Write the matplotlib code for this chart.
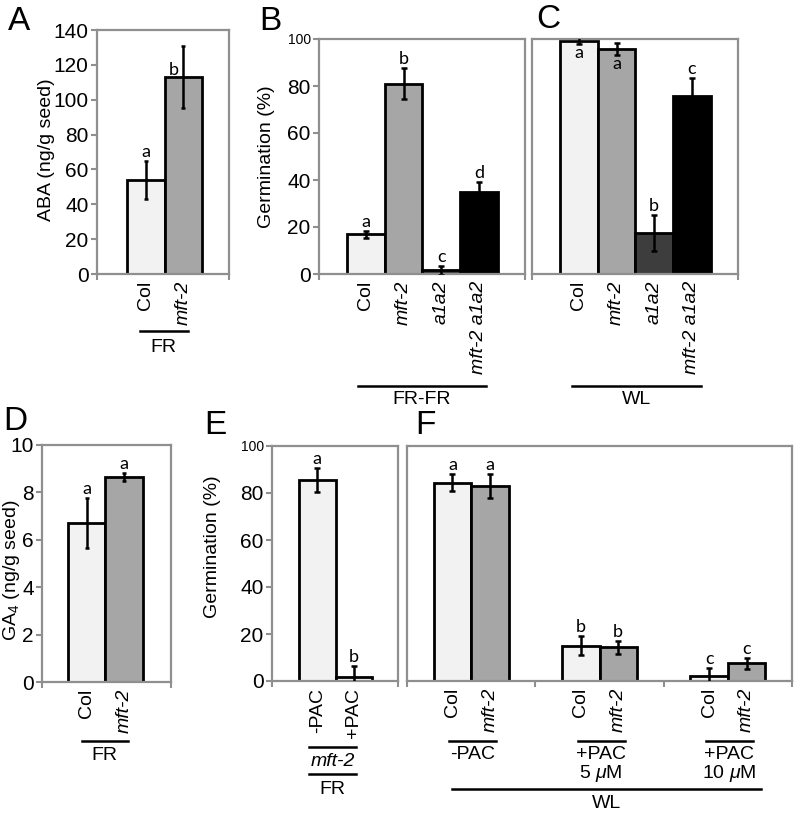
import matplotlib
matplotlib.use('Agg')
import matplotlib.pyplot as plt
from matplotlib.lines import Line2D
from matplotlib.transforms import blended_transform_factory

plt.rcParams['font.family'] = ['Liberation Sans', 'DejaVu Sans']
plt.rcParams['mathtext.fontset'] = 'custom'
plt.rcParams['mathtext.rm'] = 'Liberation Sans'
plt.rcParams['mathtext.it'] = 'Liberation Sans:italic'

# ---------------- data ----------------
a_genotypes = ['Col', 'mft-2']
a_aba = [54, 113]
a_aba_err = [11, 18]
a_letters = ['a', 'b']
a_condition = 'FR'

b_genotypes = ['Col', 'mft-2', 'a1a2', 'mft-2 a1a2']
b_germ = [17, 81, 1.5, 35]
b_germ_err = [1.5, 6.5, 2.0, 4.0]
b_letters = ['a', 'b', 'c', 'd']
b_condition = 'FR-FR'

c_genotypes = ['Col', 'mft-2', 'a1a2', 'mft-2 a1a2']
c_germ = [99.3, 95.8, 17.5, 75.8]
c_germ_err = [1.5, 2.7, 7.5, 7.5]
c_letters = ['a', 'a', 'b', 'c']
c_condition = 'WL'

d_genotypes = ['Col', 'mft-2']
d_ga4 = [6.7, 8.65]
d_ga4_err = [1.05, 0.15]
d_letters = ['a', 'a']
d_condition = 'FR'

e_treatments = ['-PAC', '+PAC']
e_germ = [85.5, 1.8]
e_germ_err = [5.0, 4.5]
e_letters = ['a', 'b']
e_genotype = 'mft-2'
e_condition = 'FR'

f_treatments = ['-PAC', '+PAC\n5 $\\mathit{μ}$M', '+PAC\n10 $\\mathit{μ}$M']
f_genotypes = ['Col', 'mft-2']
f_col_germ = [84.4, 15.0, 2.3]
f_col_err = [3.6, 4.0, 3.4]
f_mft_germ = [83.0, 14.3, 7.5]
f_mft_err = [5.0, 2.7, 2.5]
f_col_letters = ['a', 'b', 'c']
f_mft_letters = ['a', 'b', 'c']
f_condition = 'WL'

# ---------------- style ----------------
colors = {'Col': '#f2f2f2', 'mft-2': '#a6a6a6', 'a1a2': '#3d3d3d',
          'mft-2 a1a2': '#000000', '-PAC': '#f2f2f2', '+PAC': '#f2f2f2'}
GRAY = '#8f8f8f'
LETTER_FONT = ['Lato', 'DejaVu Sans']
W, H = 796, 815
fig = plt.figure(figsize=(W / 100, H / 100), dpi=100)


def px2pt(p):
    return p * 72.0 / 100.0


def make_ax(x0, y0, x1, y1, xlim, ylim, yticks, show_y=True, minor=None):
    ax = fig.add_axes([x0 / W, 1 - y1 / H, (x1 - x0) / W, (y1 - y0) / H])
    ax.set_xlim(xlim)
    ax.set_ylim(ylim)
    for s in ax.spines.values():
        s.set_color(GRAY)
        s.set_linewidth(1.6)
    ax.set_yticks(yticks)
    ax.tick_params(axis='y', direction='out', length=4, width=1.5,
                   color=GRAY, labelsize=15, pad=2)
    if not show_y:
        ax.tick_params(axis='y', length=0, labelleft=False)
    ax.tick_params(axis='x', which='major', length=0, labelsize=14, pad=5)
    ax.set_xticks(minor if minor is not None else list(xlim), minor=True)
    ax.tick_params(axis='x', which='minor', direction='out', length=4,
                   width=1.5, color=GRAY)
    return ax


def draw_bars(ax, x, vals, errs, names, width=1.0, capsize=2.5):
    ax.bar(x, vals, width=width, color=[colors[n] for n in names],
           edgecolor='black', linewidth=2.0, zorder=2)
    ax.errorbar(x, vals, yerr=errs, fmt='none', ecolor='black',
                elinewidth=1.8, capsize=capsize, capthick=1.8, zorder=3)


def set_labels(ax, x, names):
    ax.set_xticks(x)
    ax.set_xticklabels(names, rotation=90)
    for lbl, n in zip(ax.get_xticklabels(), names):
        if n not in ('Col', '-PAC', '+PAC'):
            lbl.set_fontstyle('italic')


def ylabel(ax, text, xfrac, yfrac=0.5):
    ax.set_ylabel(text, fontsize=14)
    ax.yaxis.set_label_coords(xfrac, yfrac)


def letter(ax, x, y, s, dx=0, dy=1, va='bottom'):
    ax.annotate(s, (x, y), xytext=(px2pt(dx), px2pt(dy)),
                textcoords='offset points', ha='center', va=va,
                fontsize=13, family=LETTER_FONT, zorder=4)


def bracket(ax, x0, x1, y_px, text, text_y_px, italic=False, va='center'):
    tr = blended_transform_factory(ax.transData, fig.transFigure)
    fig.add_artist(Line2D([x0, x1], [1 - y_px / H] * 2, transform=tr,
                          color='black', lw=1.8))
    if text:
        fig.text((x0 + x1) / 2, 1 - text_y_px / H, text, transform=tr,
                 ha='center', va=va, fontsize=14,
                 fontstyle='italic' if italic else 'normal', linespacing=1.0)


def panel_letter(x, y, s):
    fig.text(x / W, 1 - y / H, s, ha='center', va='center', fontsize=24)


# ---------------- Panel A ----------------
axA = make_ax(97, 30, 229, 274, (-1.3, 2.22), (0, 140), range(0, 141, 20))
xa = list(range(len(a_genotypes)))
draw_bars(axA, xa, a_aba, a_aba_err, a_genotypes, capsize=1.5)
set_labels(axA, xa, a_genotypes)
ylabel(axA, 'ABA (ng/g seed)', -0.318, 0.51)
letter(axA, 0, a_aba[0] + a_aba_err[0], a_letters[0])
letter(axA, 1, a_aba[1] + a_aba_err[1], a_letters[1], dx=-10, dy=-32)
bracket(axA, -0.16, 1.12, 331, a_condition, 347)

# ---------------- Panel B ----------------
axB = make_ax(319, 39, 525, 274, (-1.24, 4.22), (0, 100), range(0, 101, 20))
xb = list(range(len(b_genotypes)))
draw_bars(axB, xb, b_germ, b_germ_err, b_genotypes)
set_labels(axB, xb, b_genotypes)
axB.get_yticklabels()[-1].set_fontsize(10)
ylabel(axB, 'Germination (%)', -0.214, 0.5)
for i, s in enumerate(b_letters):
    letter(axB, i, b_germ[i] + b_germ_err[i], s)
bracket(axB, -0.21, 3.18, 386, b_condition, 399)

# ---------------- Panel C ----------------
axC = make_ax(532, 39, 738, 274, (-1.24, 4.22), (0, 100), range(0, 101, 20),
              show_y=False)
xc = list(range(len(c_genotypes)))
draw_bars(axC, xc, c_germ, c_germ_err, c_genotypes)
set_labels(axC, xc, c_genotypes)
for i, s in enumerate(c_letters):
    if i < 2:
        letter(axC, i, c_germ[i] - c_germ_err[i], s, dy=-1, va='top')
    else:
        letter(axC, i, c_germ[i] + c_germ_err[i], s)
bracket(axC, -0.18, 3.24, 386, c_condition, 399)

# ---------------- Panel D ----------------
axD = make_ax(42, 445, 171, 682, (-1.19, 2.25), (0, 10), range(0, 11, 2))
xd = list(range(len(d_genotypes)))
draw_bars(axD, xd, d_ga4, d_ga4_err, d_genotypes, capsize=1.5)
set_labels(axD, xd, d_genotypes)
ylabel(axD, 'GA$_4$ (ng/g seed)', -0.155, 0.47)
for i, s in enumerate(d_letters):
    letter(axD, i, d_ga4[i] + d_ga4_err[i], s)
bracket(axD, -0.13, 1.1, 741, d_condition, 756)

# ---------------- Panel E ----------------
axE = make_ax(272, 446, 398, 681, (-1.24, 2.21), (0, 100), range(0, 101, 20))
xe = list(range(len(e_treatments)))
draw_bars(axE, xe, e_germ, e_germ_err, e_treatments)
set_labels(axE, xe, e_treatments)
axE.get_yticklabels()[-1].set_fontsize(10)
ylabel(axE, 'Germination (%)', -0.405, 0.57)
for i, s in enumerate(e_letters):
    letter(axE, i, e_germ[i] + e_germ_err[i], s)
bracket(axE, -0.23, 1.06, 747, e_genotype, 761, italic=True)
bracket(axE, -0.23, 1.06, 774, e_condition, 790)

# ---------------- Panel F ----------------
axF = make_ax(407, 446, 792, 681, (-0.5, 2.5), (0, 100), range(0, 101, 20),
              show_y=False, minor=[-0.5, 0.5, 1.5, 2.5])
bw = 0.292
xg = list(range(len(f_treatments)))
x_col = [g - bw / 2 for g in xg]
x_mft = [g + bw / 2 for g in xg]
draw_bars(axF, x_col, f_col_germ, f_col_err, ['Col'] * 3, width=bw)
draw_bars(axF, x_mft, f_mft_germ, f_mft_err, ['mft-2'] * 3, width=bw)
xt, names = [], []
for g in xg:
    xt += [x_col[g], x_mft[g]]
    names += f_genotypes
set_labels(axF, xt, names)
for g in xg:
    letter(axF, x_col[g], f_col_germ[g] + f_col_err[g], f_col_letters[g])
    letter(axF, x_mft[g], f_mft_germ[g] + f_mft_err[g], f_mft_letters[g])
    bracket(axF, g - 0.17, g + 0.195, 741, f_treatments[g], 746, va='top')
bracket(axF, -0.15, 2.26, 789, f_condition, 803)

# ---------------- panel letters ----------------
panel_letter(19, 21, 'A')
panel_letter(270, 21, 'B')
panel_letter(548, 19, 'C')
panel_letter(15, 421, 'D')
panel_letter(215, 425, 'E')
panel_letter(425, 425, 'F')

fig.savefig('out.png', dpi=100)
